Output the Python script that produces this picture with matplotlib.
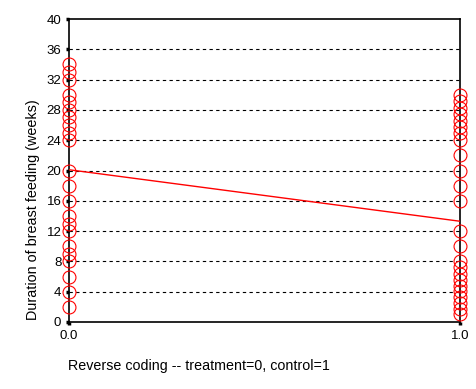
import matplotlib
matplotlib.use("Agg")
from matplotlib import pyplot as plt

plt.rcParams['font.family'] = ['Liberation Sans', 'DejaVu Sans']

# duration of breast feeding (weeks)
treatment_weeks = [34, 33, 32, 30, 29, 28, 27, 26, 25, 24, 20, 18, 16, 14, 13,
                   12, 10, 9, 8, 6, 4, 2]
control_weeks = [30, 29.2, 28.3, 27.5, 26.5, 25.8, 25, 24, 22, 20, 18, 16, 12,
                 10, 8.1, 7.2, 6.3, 5.5, 4.8, 4.1, 3.3, 2.5, 1.7, 1.0]
fit_x = [0.0, 1.0]
fit_y = [20.1, 13.3]
y_ticks = [0, 4, 8, 12, 16, 20, 24, 28, 32, 36, 40]
x_ticks = [0.0, 1.0]
x_tick_labels = ['0.0', '1.0']

fig = plt.figure(figsize=(4.76, 3.89), dpi=100)
ax = fig.add_axes([69 / 476, 1 - 322 / 389, (460 - 69) / 476, (322 - 19) / 389])

for y in y_ticks[1:-1]:
    ax.axhline(y, color='black', lw=0.8, ls=(0, (3, 3)), zorder=1)

ax.plot(fit_x, fit_y, color='red', lw=1, zorder=3)
ax.plot([0] * len(treatment_weeks), treatment_weeks, 'o', mfc='none', mec='red',
        ms=9.3, mew=0.8, clip_on=False, zorder=4)
ax.plot([1] * len(control_weeks), control_weeks, 'o', mfc='none', mec='red',
        ms=9.3, mew=0.8, clip_on=False, zorder=4)

ax.set_xlim(0, 1)
ax.set_ylim(0, 40)
ax.set_yticks(y_ticks)
ax.set_xticks(x_ticks)
ax.set_xticklabels(x_tick_labels)
ax.tick_params(direction='out', length=2.5, width=2.5, labelsize=9.5, pad=3)
for s in ax.spines.values():
    s.set_linewidth(1.2)
    s.set_zorder(2)

fig.text(33 / 476, 1 - 320 / 389, 'Duration of breast feeding (weeks)',
         rotation=90, ha='center', va='bottom', fontsize=10.4)
fig.text(68 / 476, 1 - 366 / 389, 'Reverse coding -- treatment=0, control=1',
         ha='left', va='center', fontsize=10.3)

fig.savefig('out.png', dpi=100)
